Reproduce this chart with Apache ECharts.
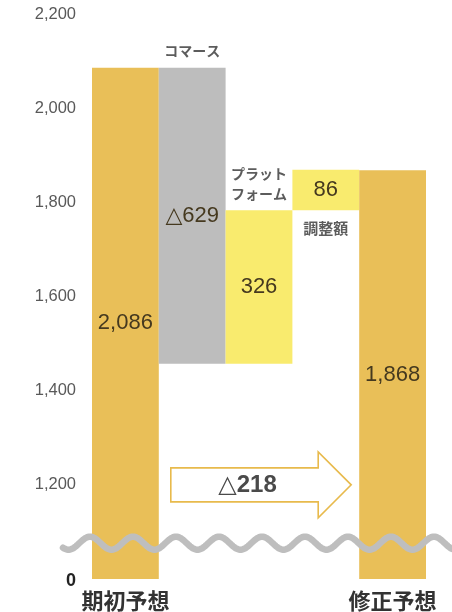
<!DOCTYPE html>
<html>
<head>
<meta charset="utf-8">
<script src="https://cdn.jsdelivr.net/npm/echarts@6/dist/echarts.min.js"></script>
<style>
  html, body { margin: 0; padding: 0; background: #ffffff; }
  #chart { width: 452px; height: 612px; }
</style>
</head>
<body>
<div id="chart"></div>
<script>
// Forecast bridge: initial forecast -> segment changes -> revised forecast
const categories = ['期初予想', 'コマース', 'プラットフォーム', '調整額', '修正予想'];
const captions = ['', 'コマース', 'プラット\nフォーム', '調整額', ''];
const changes = [2086, -629, 326, 86, 1868];
const isTotal = [true, false, false, false, true];
const yTicks = [0, 1200, 1400, 1600, 1800, 2000, 2200];
const netChange = -218;

// Build waterfall base / height from the changes
const base = [];
const height = [];
let running = 0;
changes.forEach(function (v, i) {
  if (isTotal[i]) {
    base.push(0); height.push(v); running = v;
  } else if (v < 0) {
    running += v; base.push(running); height.push(-v);
  } else {
    base.push(running); height.push(v); running += v;
  }
});

const GOLD = '#E9BF58';
const GRAY = '#BDBDBD';
const YELLOW = '#F9EB6E';
const barColors = [GOLD, GRAY, YELLOW, YELLOW, GOLD];
const FONT = '"Liberation Sans", Arial, "DejaVu Sans", "Noto Sans CJK JP", sans-serif';
const JFONT = '"Noto Sans CJK JP", "Liberation Sans", sans-serif';

function fmtValue(v, i) {
  if (isTotal[i]) return v.toLocaleString('en-US');
  return (changes[i] < 0 ? '△' : '') + Math.abs(changes[i]).toLocaleString('en-US');
}

// Caption placed above the bar top, or below the bar bottom for the last adjustment
const captionPoints = [];
captions.forEach(function (c, i) {
  if (!c) return;
  const below = i === 3;
  captionPoints.push({
    value: [i, below ? base[i] : base[i] + height[i]],
    label: {
      show: true,
      formatter: c,
      position: below ? 'bottom' : 'top',
      distance: below ? 8 : 7,
      fontSize: i === 3 ? 15 : 14,
      lineHeight: 20
    }
  });
});

const chart = echarts.init(document.getElementById('chart'), null, { renderer: 'canvas' });

chart.setOption({
  animation: false,
  backgroundColor: '#ffffff',
  grid: { left: 92, right: 26, top: 14, bottom: 31, containLabel: false },
  xAxis: {
    type: 'category',
    data: categories,
    axisLine: { show: false },
    axisTick: { show: false },
    splitLine: { show: false },
    axisLabel: {
      interval: 0,
      margin: 11,
      fontFamily: JFONT,
      fontWeight: 'bold',
      fontSize: 22,
      color: '#333333',
      formatter: function (v, i) { return isTotal[i] ? v : ''; }
    }
  },
  yAxis: {
    type: 'value',
    min: 0,
    max: 2200,
    interval: 200,
    // compressed span between 0 and 1,200
    breaks: [{ start: 0, end: 1200, gap: 200 }],
    breakArea: { show: false },
    axisLine: { show: false },
    axisTick: { show: false },
    splitLine: { show: false },
    axisLabel: {
      margin: 16,
      fontFamily: FONT,
      fontSize: 16.5,
      color: '#595959',
      formatter: function (v) {
        if (yTicks.indexOf(v) < 0) return '';
        if (v === 0) return '{z|0}';
        return v.toLocaleString('en-US');
      },
      rich: {
        z: { fontFamily: FONT, fontWeight: 'bold', fontSize: 18, color: '#222222', padding: [4, 0, 0, 0] }
      }
    }
  },
  series: [
    {
      name: 'base',
      type: 'bar',
      stack: 'bridge',
      barCategoryGap: '0%',
      silent: true,
      itemStyle: { color: 'transparent' },
      emphasis: { disabled: true },
      data: base
    },
    {
      name: 'value',
      type: 'bar',
      stack: 'bridge',
      barCategoryGap: '0%',
      silent: true,
      emphasis: { disabled: true },
      data: height.map(function (h, i) {
        return { value: h, itemStyle: { color: barColors[i] } };
      }),
      label: {
        show: true,
        position: 'inside',
        fontFamily: FONT,
        fontSize: 22,
        color: '#45391f',
        formatter: function (p) { return fmtValue(changes[p.dataIndex], p.dataIndex); }
      },
      z: 2
    },
    {
      name: 'caption',
      type: 'scatter',
      symbolSize: 0,
      silent: true,
      data: captionPoints,
      label: {
        show: true,
        fontFamily: JFONT,
        fontWeight: 'bold',
        color: '#333333'
      },
      z: 5
    }
  ]
});

// Overlay: broken-axis wave and the net change arrow
function drawOverlay() {
  const yTop = chart.convertToPixel({ yAxisIndex: 0 }, 1200);
  const yZero = chart.convertToPixel({ yAxisIndex: 0 }, 0);
  const c0 = chart.convertToPixel({ xAxisIndex: 0 }, 0);
  const c1 = chart.convertToPixel({ xAxisIndex: 0 }, 1);
  const c4 = chart.convertToPixel({ xAxisIndex: 0 }, 4);
  const band = c1 - c0;

  // wave across the axis break
  const waveY = yTop + (yZero - yTop) * 0.62;
  const pts = [];
  const waveLen = 43, amp = 6.5, x0 = 63, x1 = 452;
  for (let x = x0; x <= x1; x += 1) {
    pts.push([x, waveY - amp * Math.cos(2 * Math.PI * (x - 90) / waveLen)]);
  }

  // arrow from the initial to the revised forecast bar
  const L = c0 + band / 2 + 12;
  const T = c4 - band / 2 - 8;
  const H = T - 33;
  const cy = yTop;
  const arrow = [
    [L, cy - 17], [H, cy - 17], [H, cy - 33], [T, cy],
    [H, cy + 33], [H, cy + 17], [L, cy + 17]
  ];

  chart.setOption({
    graphic: [
      {
        type: 'polyline',
        silent: true,
        z: 20,
        shape: { points: pts },
        style: { stroke: '#BEBEBE', lineWidth: 6.5, fill: null, lineCap: 'round' }
      },
      {
        type: 'polygon',
        silent: true,
        z: 20,
        shape: { points: arrow },
        style: { fill: '#ffffff', stroke: '#E8BA4C', lineWidth: 1.6 }
      },
      {
        type: 'text',
        silent: true,
        z: 21,
        style: {
          x: L + (H - L) / 2 + 3,
          y: cy + 1,
          text: '△' + Math.abs(netChange),
          align: 'center',
          verticalAlign: 'middle',
          font: 'bold 24px ' + FONT,
          fill: '#4a4a4a'
        }
      }
    ]
  });
}
drawOverlay();
</script>
</body>
</html>
